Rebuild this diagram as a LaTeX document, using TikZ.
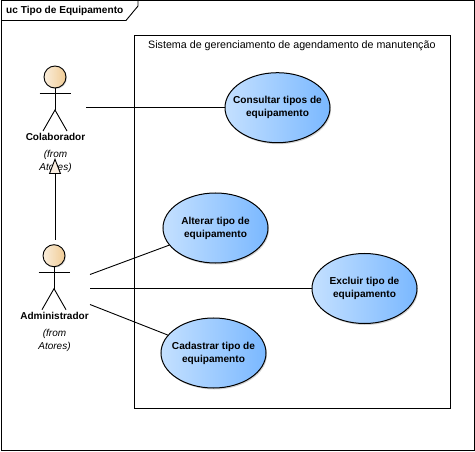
\documentclass[tikz,border=0pt]{standalone}
\usepackage{fontspec}
\setmainfont{Liberation Sans}
\usetikzlibrary{arrows.meta,positioning,shapes.geometric,shadows}
\definecolor{UseLeftColor}{RGB}{196,224,255}
\definecolor{UseRightColor}{RGB}{122,184,255}
\definecolor{HeadLeftColor}{RGB}{250,238,220}
\definecolor{HeadRightColor}{RGB}{240,203,148}
\definecolor{TipColor}{RGB}{250,238,225}
\newcommand{\PlaceActor}[4]{%
  % #1 prefix, #2 x-position, #3 head y-position, #4 name
  \node[actorhead] (#1H) at (#2,#3) {};
  \coordinate (#1A) at (#2-15.5,#3+16.5);
  \coordinate (#1B) at (#2+15.5,#3+16.5);
  \coordinate (#1N) at (#2,#3+33);
  \coordinate (#1L) at (#2-12,#3+54);
  \coordinate (#1R) at (#2+12,#3+54);
  \draw[stick] (#1H) -- (#1N);
  \draw[stick] (#1A) -- (#1B);
  \draw[stick] (#1L) -- (#1N) -- (#1R);
  \node[actorname] (#1T) at (#2+0.5,#3+60) {#4};
  \node[fromnote] (#1F) at (#2+0.5,#3+84.5) {(from\\Atores)};
}

\begin{document}
\begin{tikzpicture}[
  x=1pt,y=-1pt,
  stick/.style={black,line width=0.9pt},
  link/.style={black,line width=0.9pt},
  usecase/.style={ellipse,draw=black,line width=1pt,minimum width=105pt,minimum height=70pt,inner sep=-15pt,
    left color=UseLeftColor,right color=UseRightColor,align=center,
    font=\bfseries\fontsize{10.1}{13}\selectfont,
    drop shadow={shadow xshift=1pt,shadow yshift=-1.5pt,opacity=0.35}},
  actorhead/.style={circle,draw=black,line width=0.9pt,minimum size=22pt,inner sep=0pt,
    left color=HeadLeftColor,right color=HeadRightColor,
    drop shadow={shadow xshift=1pt,shadow yshift=-1pt,opacity=0.3}},
  actorname/.style={font=\bfseries\fontsize{10}{12}\selectfont,inner sep=0pt},
  fromnote/.style={font=\itshape\fontsize{10}{12.7}\selectfont,align=center,inner sep=0pt},
  titletext/.style={font=\fontsize{10.7}{12}\selectfont,inner sep=0pt,anchor=west}
]
\useasboundingbox (0,0) rectangle (475,452);

% Frame and title tab
\draw[black,line width=1pt] (1.5,1) rectangle (474,450.5);
\draw[black,line width=0.9pt] (1.5,20.5) -- (126,20.5) -- (138,6) -- (138,1);
\node[titletext,font=\bfseries\fontsize{10.1}{12}\selectfont] (frametitle) at (6,10.5) {uc Tipo de Equipamento};

% System boundary
\draw[black,line width=1pt] (134.5,35.5) rectangle (450,408);
\node[titletext] (systitle) at (148,45.5) {Sistema de gerenciamento de agendamento de manutenção};

% Actors
\PlaceActor{Colab}{55}{77}{Colaborador}
\PlaceActor{Admin}{54}{255.7}{Administrador}

% Use cases
\node[usecase] (consultar) at (277.5,107.7) {Consultar tipos de\\equipamento};
\node[usecase] (alterar) at (215.5,228) {Alterar tipo de\\equipamento};
\node[usecase] (excluir) at (364.5,288.5) {Excluir tipo de\\equipamento};
\node[usecase] (cadastrar) at (213.5,353) {Cadastrar tipo de\\equipamento};

% Free ends next to the actors
\coordinate (colabend) at (86,107.7);
\coordinate (adminend1) at (90,274.5);
\coordinate (adminend2) at (90,288.5);
\coordinate (adminend3) at (90,304.5);
\coordinate (admintop) at (55,240);
\coordinate (colabfoot) at (55,158);

% Associations
\draw[link] (colabend) -- (consultar);
\draw[link] (adminend1) -- (alterar);
\draw[link] (adminend2) -- (excluir);
\draw[link] (adminend3) -- (cadastrar);

% Generalization
\draw[link,-{Triangle[length=16pt,width=12pt,fill=TipColor]}] (admintop) -- (colabfoot);

\end{tikzpicture}
\end{document}
